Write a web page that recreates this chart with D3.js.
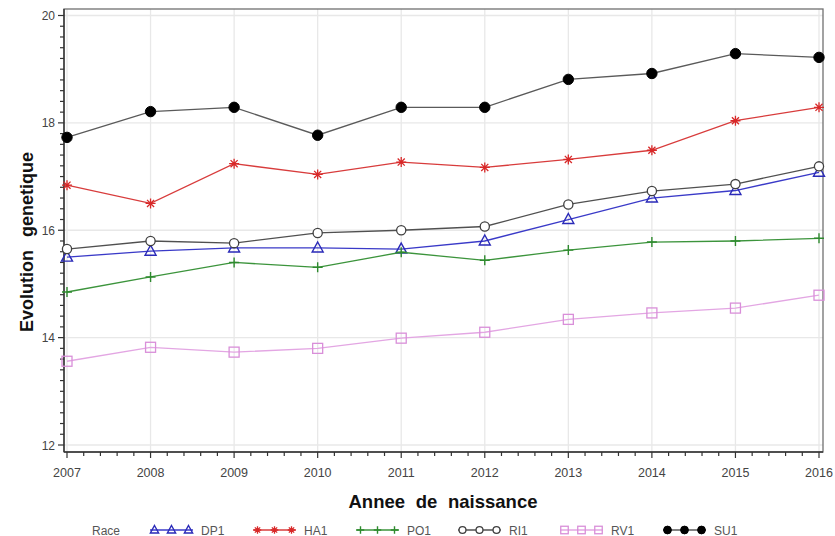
<!DOCTYPE html>
<html><head><meta charset="utf-8">
<script src="https://cdn.jsdelivr.net/npm/d3@7"></script>
<style>body{margin:0;background:#fff}svg{display:block}</style>
</head><body>
<script>
const years = [2007,2008,2009,2010,2011,2012,2013,2014,2015,2016];
const DP1 = [15.50,15.61,15.67,15.67,15.65,15.80,16.20,16.60,16.74,17.08];
const HA1 = [16.84,16.50,17.24,17.04,17.27,17.17,17.32,17.49,18.04,18.29];
const PO1 = [14.85,15.13,15.40,15.31,15.59,15.44,15.63,15.78,15.80,15.85];
const RI1 = [15.65,15.80,15.76,15.95,16.00,16.07,16.48,16.73,16.86,17.19];
const RV1 = [13.56,13.82,13.73,13.80,13.99,14.10,14.34,14.46,14.55,14.79];
const SU1 = [17.73,18.21,18.29,17.77,18.29,18.29,18.81,18.92,19.29,19.22];
const yTicks = [12,14,16,18,20];
const seriesNames = ["DP1","HA1","PO1","RI1","RV1","SU1"];
const seriesValues = [DP1,HA1,PO1,RI1,RV1,SU1];
const styles = {
  DP1:{line:"#3a3ac8", mark:"triangle", stroke:"#2a2ab8", fill:"none"},
  HA1:{line:"#d83c3c", mark:"star", stroke:"#d82828", fill:"none"},
  PO1:{line:"#3c943c", mark:"plus", stroke:"#2e8a2e", fill:"none"},
  RI1:{line:"#505050", mark:"circle", stroke:"#404040", fill:"none"},
  RV1:{line:"#e3a6e3", mark:"square", stroke:"#d98fd9", fill:"none"},
  SU1:{line:"#5a5a5a", mark:"dot", stroke:"#000", fill:"#000"}
};

const W=835,H=536;
const FONT="Liberation Sans, Arial, sans-serif";
const svg=d3.select("body").append("svg").attr("width",W).attr("height",H);
const x=d3.scaleLinear().domain([2007,2016]).range([67,819]);
const y=d3.scaleLinear().domain([12,20]).range([445,15.5]);
const frame={l:64,r:823,t:9,b:452};

// grid
svg.append("g").selectAll("line").data(years).join("line")
  .attr("x1",d=>x(d)).attr("x2",d=>x(d)).attr("y1",frame.t).attr("y2",frame.b)
  .attr("stroke","#e8e8e8").attr("stroke-width",1.3);
svg.append("g").selectAll("line").data(yTicks).join("line")
  .attr("x1",frame.l).attr("x2",frame.r).attr("y1",d=>y(d)).attr("y2",d=>y(d))
  .attr("stroke","#e8e8e8").attr("stroke-width",1.3);

// frame
svg.append("rect").attr("x",frame.l).attr("y",frame.t).attr("width",frame.r-frame.l).attr("height",frame.b-frame.t)
  .attr("fill","none").attr("stroke","#707070").attr("stroke-width",1.3);

// axes
const yMinor=d3.range(12,20.001,0.2);
svg.append("g").selectAll("line").data(yMinor).join("line")
  .attr("x1",frame.l).attr("x2",d=>Math.abs(d-Math.round(d/2)*2)<0.01?frame.l-6:frame.l-4)
  .attr("y1",d=>y(d)).attr("y2",d=>y(d)).attr("stroke","#333").attr("stroke-width",1.2);
svg.append("line").attr("x1",frame.l).attr("x2",frame.l).attr("y1",frame.t).attr("y2",frame.b).attr("stroke","#333").attr("stroke-width",1.4);
svg.append("g").selectAll("text").data(yTicks).join("text")
  .attr("x",frame.l-9).attr("y",d=>y(d)+4.5).attr("text-anchor","end")
  .attr("font-family",FONT).attr("font-size",12).attr("fill","#444").text(d=>d);

const xMinor=d3.range(2007,2016.001,0.2);
svg.append("g").selectAll("line").data(xMinor).join("line")
  .attr("x1",d=>x(d)).attr("x2",d=>x(d))
  .attr("y1",frame.b).attr("y2",d=>Math.abs(d-Math.round(d))<0.01?frame.b+6:frame.b+4)
  .attr("stroke","#333").attr("stroke-width",1.2);
svg.append("line").attr("x1",frame.l).attr("x2",frame.r).attr("y1",frame.b).attr("y2",frame.b).attr("stroke","#333").attr("stroke-width",1.4);
svg.append("g").selectAll("text").data(years).join("text")
  .attr("x",d=>x(d)).attr("y",477).attr("text-anchor","middle")
  .attr("font-family",FONT).attr("font-size",12.5).attr("fill","#444").text(d=>d);

// axis titles, word gap widened to match target width
function fitWords(t,target){
  const n=t.text().split(" ").length-1;
  const w=t.node().getComputedTextLength();
  if(n>0 && w<target) t.attr("word-spacing",Math.min(8,(target-w)/n));
}
const xt=svg.append("text").attr("x",443).attr("y",508).attr("text-anchor","middle")
  .attr("font-family",FONT).attr("font-weight","bold").attr("font-size",18.5)
  .attr("fill","#111").text("Annee de naissance");
fitWords(xt,189);
const yt=svg.append("text").attr("transform","translate(33,242) rotate(-90)").attr("text-anchor","middle")
  .attr("font-family",FONT).attr("font-weight","bold").attr("font-size",18)
  .attr("fill","#111").text("Evolution genetique");
fitWords(yt,198);

// markers
function drawMarker(g,type,cx,cy,st,s){
  if(type==="triangle"){
    g.append("path").attr("d",`M${cx},${cy-6*s}L${cx+5.5*s},${cy+4*s}L${cx-5.5*s},${cy+4*s}Z`)
      .attr("fill","none").attr("stroke",st.stroke).attr("stroke-width",1.4);
  } else if(type==="star"){
    const p=[];
    for(let i=0;i<4;i++){const a=i*Math.PI/4;p.push(`M${cx-5*s*Math.cos(a)},${cy-5*s*Math.sin(a)}L${cx+5*s*Math.cos(a)},${cy+5*s*Math.sin(a)}`);}
    g.append("path").attr("d",p.join("")).attr("stroke",st.stroke).attr("stroke-width",1.3);
  } else if(type==="plus"){
    g.append("path").attr("d",`M${cx-5*s},${cy}L${cx+5*s},${cy}M${cx},${cy-5*s}L${cx},${cy+5*s}`)
      .attr("stroke",st.stroke).attr("stroke-width",1.4);
  } else if(type==="circle"){
    g.append("circle").attr("cx",cx).attr("cy",cy).attr("r",4.6*s).attr("fill","#fff").attr("stroke",st.stroke).attr("stroke-width",1.3);
  } else if(type==="square"){
    g.append("rect").attr("x",cx-5*s).attr("y",cy-5*s).attr("width",10*s).attr("height",10*s)
      .attr("fill","none").attr("stroke",st.stroke).attr("stroke-width",1.3);
  } else if(type==="dot"){
    g.append("circle").attr("cx",cx).attr("cy",cy).attr("r",5.2*s).attr("fill",st.fill).attr("stroke",st.stroke);
  }
}

const line=d3.line().x((d,i)=>x(years[i])).y(d=>y(d));
seriesNames.forEach((name,k)=>{
  const st=styles[name], vals=seriesValues[k];
  const g=svg.append("g");
  g.append("path").attr("d",line(vals)).attr("fill","none").attr("stroke",st.line).attr("stroke-width",1.3);
  vals.forEach((v,i)=>drawMarker(g,st.mark,x(years[i]),y(v),st,1));
});

// legend
const legY=530;
svg.append("text").attr("x",92).attr("y",legY+4.5).attr("font-family",FONT)
  .attr("font-size",12).attr("fill","#555").text("Race");
const legX=[150,253,356,458,560,663];
seriesNames.forEach((name,k)=>{
  const st=styles[name], x0=legX[k], x1=x0+43;
  const g=svg.append("g");
  g.append("line").attr("x1",x0).attr("x2",x1).attr("y1",legY).attr("y2",legY).attr("stroke",st.line).attr("stroke-width",1.3);
  [x0+4.5,x0+21.5,x1-4.5].forEach(mx=>drawMarker(g,st.mark,mx,legY,st,0.75));
  g.append("text").attr("x",x1+8).attr("y",legY+4.5).attr("font-family",FONT)
    .attr("font-size",12).attr("fill","#555").text(name);
});
</script>
</body></html>
